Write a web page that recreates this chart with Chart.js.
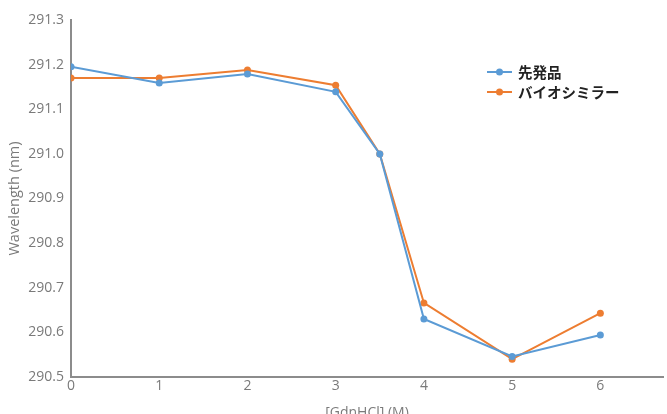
<!DOCTYPE html>
<html>
<head>
<meta charset="utf-8">
<script src="https://cdn.jsdelivr.net/npm/chart.js@4.4.1/dist/chart.umd.min.js"></script>
<style>
  html, body { margin: 0; padding: 0; background: #fff; overflow: hidden; }
  #wrap { position: relative; width: 667px; height: 421px; }
</style>
</head>
<body>
<div id="wrap"><canvas id="c"></canvas></div>
<script>
// GdnHCl concentration (M)
const concentrations = [0, 1, 2, 3, 3.5, 4, 5, 6];
// Fluorescence peak wavelength (nm)
const originator = [291.195, 291.159, 291.179, 291.139, 291.0, 290.630, 290.546, 290.594];
const biosimilar = [291.170, 291.170, 291.188, 291.154, 291.0, 290.666, 290.540, 290.643];
const seriesNames = ['先発品', 'バイオシミラー'];
const xTicks = [0, 1, 2, 3, 4, 5, 6];
const yTicks = [290.5, 290.6, 290.7, 290.8, 290.9, 291.0, 291.1, 291.2, 291.3];

const BLUE = '#5B9BD5';
const ORANGE = '#ED7D31';
const AXIS = '#8c8c8c';
const TEXT = '#7a7a7a';
const FONT = "'Open Sans', Lato, sans-serif";

const toPoints = (ys) => concentrations.map((x, i) => ({ x, y: ys[i] }));

// Legend drawn inside the plot area, upper right
const insideLegend = {
  id: 'insideLegend',
  afterDraw(chart) {
    const ctx = chart.ctx;
    const x0 = 487, y0 = 72, gap = 20;
    chart.data.datasets.forEach((ds, i) => {
      const y = y0 + i * gap;
      ctx.save();
      ctx.strokeStyle = ds.borderColor;
      ctx.lineWidth = 2;
      ctx.beginPath();
      ctx.moveTo(x0, y);
      ctx.lineTo(x0 + 25, y);
      ctx.stroke();
      ctx.fillStyle = ds.borderColor;
      ctx.beginPath();
      ctx.arc(x0 + 12.5, y, 3.5, 0, Math.PI * 2);
      ctx.fill();
      ctx.fillStyle = '#222';
      ctx.font = "bold 14.5px 'Noto Sans CJK JP', sans-serif";
      ctx.textBaseline = 'middle';
      ctx.fillText(ds.label, x0 + 31, y);
      ctx.restore();
    });
  }
};

new Chart(document.getElementById('c'), {
  type: 'line',
  data: {
    datasets: [
      {
        label: seriesNames[0],
        data: toPoints(originator),
        borderColor: BLUE,
        backgroundColor: BLUE,
        borderWidth: 2,
        pointRadius: 3.5,
        pointBorderWidth: 0,
        tension: 0
      },
      {
        label: seriesNames[1],
        data: toPoints(biosimilar),
        borderColor: ORANGE,
        backgroundColor: ORANGE,
        borderWidth: 2,
        pointRadius: 3.5,
        pointBorderWidth: 0,
        tension: 0
      }
    ]
  },
  options: {
    responsive: true,
    maintainAspectRatio: false,
    animation: false,
    layout: { padding: { top: 20, right: 0, left: 6, bottom: 0 } },
    plugins: {
      legend: { display: false },
      tooltip: { enabled: false }
    },
    scales: {
      x: {
        type: 'linear',
        min: 0,
        max: 6.71,
        afterBuildTicks(scale) { scale.ticks = xTicks.map(v => ({ value: v })); },
        afterFit(scale) { scale.height = 44; },
        grid: { display: false, drawTicks: false },
        border: { display: true, color: AXIS, width: 2 },
        ticks: { color: TEXT, font: { family: FONT, size: 14 }, padding: 1, maxRotation: 0 },
        title: {
          display: true,
          text: '[GdnHCl] (M)',
          color: TEXT,
          font: { family: FONT, size: 14 },
          padding: { top: 0, bottom: 0 }
        }
      },
      y: {
        min: 290.5,
        max: 291.3,
        afterBuildTicks(scale) { scale.ticks = yTicks.map(v => ({ value: v })); },
        afterFit(scale) { scale.width = 65; },
        grid: { display: false, drawOnChartArea: false, drawTicks: true, tickLength: 5, color: AXIS, tickWidth: 1.5 },
        border: { display: true, color: AXIS, width: 2 },
        ticks: {
          color: TEXT,
          font: { family: FONT, size: 14 },
          padding: 2,
          callback: (v) => v.toFixed(1)
        },
        title: {
          display: true,
          text: 'Wavelength (nm)',
          color: TEXT,
          font: { family: FONT, size: 14.5 },
          padding: { top: 0, bottom: 0 }
        }
      }
    }
  },
  plugins: [insideLegend]
});
</script>
</body>
</html>
